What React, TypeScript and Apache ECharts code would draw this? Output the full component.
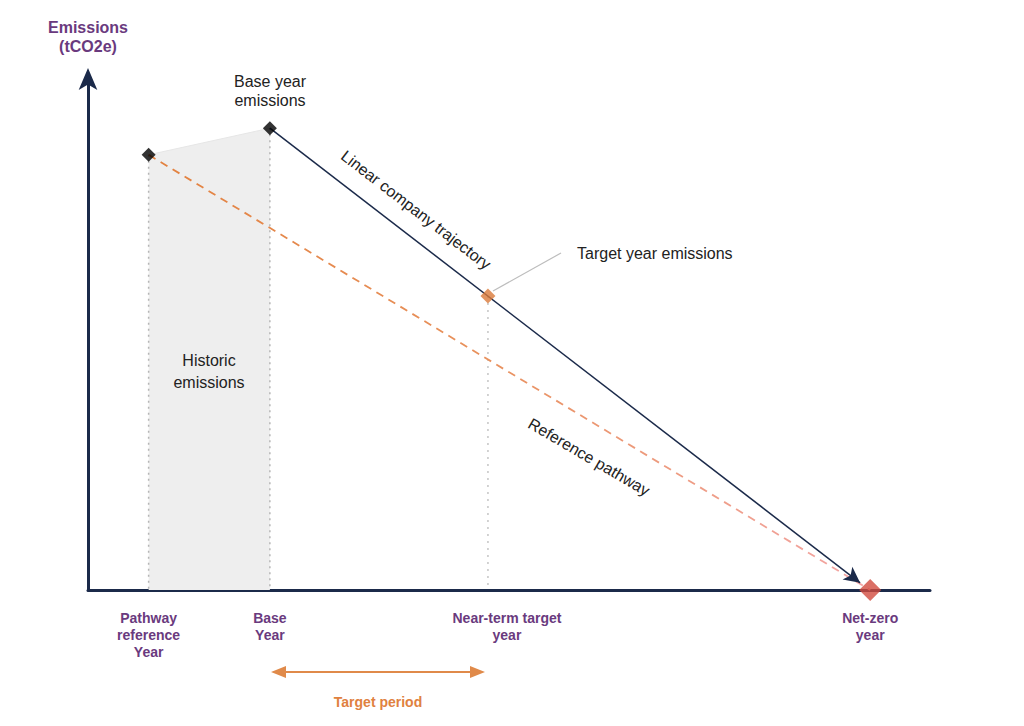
import React, { useEffect, useRef } from "react";
import * as echarts from "echarts";

// Conceptual timeline positions (abstract units) and emission levels
const keyYears = [7.2, 21.6, 47.5, 92.9];
const keyLabels = ["{a|Pathway}\n{a|reference}\n{a|Year}", "{a|Base}\n{a|Year}", "{b|Near-term target}\n{b|year}", "{a|Net-zero}\n{a|year}"];
const keyEmissions = [85, 90.2, 57.4, 0];
const trajectoryEnd = [91.7, 1.4];

const NAVY = "#1b2a4a";
const PURPLE = "#6a3a7e";
const ORANGE = "#e0813f";

export default function App() {
  const ref = useRef<HTMLDivElement>(null);
  useEffect(() => {
    if (!ref.current) return;
    const chart = echarts.init(ref.current, undefined, { renderer: "svg" });
    const pts = keyYears.map((x, i) => [x, keyEmissions[i]]);
    const font = "Liberation Sans, Arial, sans-serif";
    const lab = { color: PURPLE, fontWeight: "bold", fontSize: 14, lineHeight: 17, fontFamily: font };
    chart.setOption({
      animation: false,
      textStyle: { fontFamily: font },
      grid: { left: 88, right: 94, top: 78, bottom: 136 },
      xAxis: {
        type: "value",
        min: 0,
        max: 100,
        splitLine: { show: false },
        axisLine: { show: true, onZero: false, lineStyle: { color: NAVY, width: 3 } },
        axisTick: { show: false },
        axisLabel: {
          customValues: keyYears,
          formatter: (v: number) => {
            const i = keyYears.findIndex((k) => Math.abs(k - v) < 1e-6);
            return i >= 0 ? keyLabels[i] : "";
          },
          ...lab,
          margin: 19,
          rich: {
            a: { ...lab },
            b: { ...lab, padding: [0, 0, 0, 38] },
          },
        },
      },
      yAxis: {
        type: "value",
        min: 0,
        max: 100,
        name: "Emissions\n(tCO2e)",
        nameLocation: "end",
        nameGap: 22,
        nameTextStyle: { color: PURPLE, fontWeight: "bold", fontSize: 16, lineHeight: 19, align: "center", fontFamily: font },
        splitLine: { show: false },
        axisTick: { show: false },
        axisLabel: { show: false },
        axisLine: {
          show: true,
          symbol: ["none", "arrow"],
          symbolSize: [14, 22],
          symbolOffset: [0, 10],
          lineStyle: { color: NAVY, width: 3 },
        },
      },
      series: [
        {
          type: "line",
          data: [pts[0], pts[1]],
          symbol: "none",
          lineStyle: { color: "#e6e6e6", width: 1 },
          areaStyle: { color: "#eeeeee", opacity: 1 },
          z: 1,
        },
        {
          type: "line",
          data: [pts[0], [keyYears[0], 0]],
          symbol: "none",
          lineStyle: { color: "#b5b5b5", width: 1.5, type: [2, 4] },
          z: 2,
        },
        {
          type: "line",
          data: [pts[1], [keyYears[1], 0]],
          symbol: "none",
          lineStyle: { color: "#b5b5b5", width: 1.5, type: [2, 4] },
          z: 2,
        },
        {
          type: "line",
          data: [pts[2], [keyYears[2], 0]],
          symbol: "none",
          lineStyle: { color: "#c5c5c5", width: 1.5, type: [2, 5] },
          z: 2,
        },
        {
          type: "line",
          data: [pts[0], pts[3]],
          symbol: "none",
          lineStyle: {
            width: 1.8,
            type: [8, 6],
            color: new echarts.graphic.LinearGradient(0, 0, 1, 0, [
              { offset: 0, color: "#e2813f" },
              { offset: 0.45, color: "#e8915c" },
              { offset: 1, color: "#f3a6a6" },
            ]),
          },
          z: 3,
        },
        {
          type: "line",
          data: [],
          symbol: "none",
          markLine: {
            silent: true,
            symbol: ["none", "arrow"],
            symbolSize: [12, 16],
            label: { show: false },
            lineStyle: { color: NAVY, width: 1.5, type: "solid" },
            data: [[{ coord: pts[1] }, { coord: trajectoryEnd }]],
          },
          z: 4,
        },
        {
          type: "scatter",
          data: [pts[0], pts[1]],
          symbol: "diamond",
          symbolSize: 14,
          itemStyle: { color: "#000000" },
          z: 5,
        },
        {
          type: "scatter",
          data: [pts[2]],
          symbol: "diamond",
          symbolSize: 15,
          itemStyle: { color: "#d9793a" },
          z: 5,
        },
        {
          type: "scatter",
          data: [pts[3]],
          symbol: "diamond",
          symbolSize: 22,
          itemStyle: { color: "#d24b3e" },
          z: 5,
        },
      ],
      graphic: [
        {
          type: "text",
          x: 270,
          y: 91,
          z: 100,
          style: { text: "Base year\nemissions", fontSize: 16, lineHeight: 19, fill: "#222", align: "center", verticalAlign: "middle", fontFamily: font },
        },
        {
          type: "text",
          x: 416,
          y: 210,
          z: 100,
          rotation: -0.656,
          style: { text: "Linear company trajectory", fontSize: 16, fill: "#222", align: "center", verticalAlign: "middle", fontFamily: font },
        },
        {
          type: "text",
          x: 589,
          y: 457,
          z: 100,
          rotation: -0.53,
          style: { text: "Reference pathway", fontSize: 16, fill: "#222", align: "center", verticalAlign: "middle", fontFamily: font },
        },
        {
          type: "line",
          z: 100,
          shape: { x1: 493, y1: 291, x2: 561, y2: 253 },
          style: { stroke: "#bdbdbd", lineWidth: 1.2 },
        },
        {
          type: "text",
          x: 577,
          y: 253,
          z: 100,
          style: { text: "Target year emissions", fontSize: 16, fill: "#222", align: "left", verticalAlign: "middle", fontFamily: font },
        },
        {
          type: "text",
          x: 209,
          y: 371,
          z: 100,
          style: { text: "Historic\nemissions", fontSize: 16, lineHeight: 22, fill: "#222", align: "center", verticalAlign: "middle", fontFamily: font },
        },
        {
          type: "line",
          z: 100,
          shape: { x1: 284, y1: 672, x2: 472, y2: 672 },
          style: { stroke: "#e08a4a", lineWidth: 2 },
        },
        {
          type: "polygon",
          z: 100,
          shape: { points: [[271, 672], [286, 666], [286, 678]] },
          style: { fill: "#e08a4a" },
        },
        {
          type: "polygon",
          z: 100,
          shape: { points: [[485, 672], [470, 666], [470, 678]] },
          style: { fill: "#e08a4a" },
        },
        {
          type: "text",
          x: 378,
          y: 702,
          z: 100,
          style: { text: "Target period", fontSize: 14, fontWeight: "bold", fill: ORANGE, align: "center", verticalAlign: "middle", fontFamily: font },
        },
      ],
    });
    return () => chart.dispose();
  }, []);
  return <div ref={ref} style={{ position: "fixed", left: 0, top: 0, width: 1024, height: 726, background: "#fff" }} />;
}
